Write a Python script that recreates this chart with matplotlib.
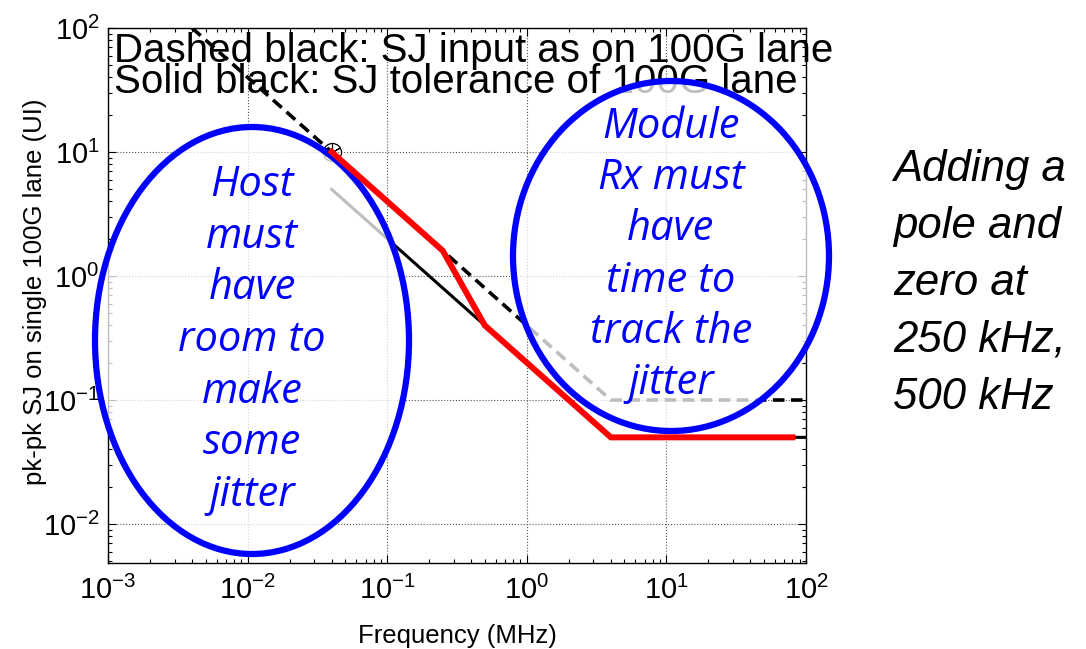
import matplotlib
matplotlib.use("Agg")
import matplotlib.pyplot as plt
from matplotlib.patches import Ellipse
from matplotlib.ticker import FixedLocator, LogLocator, NullFormatter

# data (frequency in MHz, SJ in UI)
f_input = [0.004, 4, 100]
sj_input = [100, 0.1, 0.1]
f_tol = [0.04, 4, 100]
sj_tol = [5, 0.05, 0.05]
f_new = [0.04, 0.25, 0.5, 4, 80]
sj_new = [10, 1.6, 0.4, 0.05, 0.05]
f_corner = [0.04]
sj_corner = [10]

x_ticks = [1e-3, 1e-2, 1e-1, 1e0, 1e1, 1e2]
x_labels = ["-3", "-2", "-1", "0", "1", "2"]
y_ticks = [1e-2, 1e-1, 1e0, 1e1, 1e2]
y_labels = ["-2", "-1", "0", "1", "2"]

host_lines = ["Host", "must", "have", "room to", "make", "some", "jitter"]
module_lines = ["Module", "Rx must", "have", "time to", "track the", "jitter"]
side_lines = ["Adding a", "pole and", "zero at", "250 kHz,", "500 kHz"]

narrow = ["Liberation Sans Narrow", "Liberation Sans", "DejaVu Sans"]
W, H = 1086, 649

def fx(px):
    return px / W

def fy(py):
    return 1 - py / H

fig = plt.figure(figsize=(W / 100, H / 100), dpi=100)
ax = fig.add_axes([fx(108), fy(563), fx(806) - fx(108), fy(28) - fy(563)])
ax.set_xscale("log")
ax.set_yscale("log")
ax.set_xlim(1e-3, 1e2)
ax.set_ylim(0.00485, 100)

ax.grid(True, which="major", linestyle=":", color="#555555", linewidth=0.8)
ax.xaxis.set_major_locator(FixedLocator(x_ticks))
ax.yaxis.set_major_locator(FixedLocator(y_ticks))
ax.xaxis.set_minor_locator(LogLocator(base=10, subs=range(2, 10), numticks=20))
ax.yaxis.set_minor_locator(LogLocator(base=10, subs=range(2, 10), numticks=20))
ax.xaxis.set_minor_formatter(NullFormatter())
ax.yaxis.set_minor_formatter(NullFormatter())
ax.set_xticklabels([r"$\mathregular{10^{%s}}$" % s for s in x_labels], family=narrow, fontsize=21)
ax.set_yticklabels([r"$\mathregular{10^{%s}}$" % s for s in y_labels], family=narrow, fontsize=21)
ax.tick_params(which="both", direction="in", top=True, right=True, width=0.8)
ax.tick_params(which="major", length=6)
ax.tick_params(which="minor", length=3)
ax.tick_params(axis="x", pad=9)
ax.tick_params(axis="y", pad=6)
for sp in ax.spines.values():
    sp.set_linewidth(1.0)

ax.set_xlabel("Frequency (MHz)", family=narrow, fontsize=18.5, va="center", ha="center")
ax.xaxis.set_label_coords(0.5, (563 - 636) / 535)
ax.set_ylabel("pk-pk SJ on single 100G lane (UI)", family=narrow, fontsize=18.5,
              va="center", ha="center")
ax.yaxis.set_label_coords((35 - 108) / 698, (563 - 292) / 535)

ax.plot(f_input, sj_input, color="black", linestyle=(0, (3.2, 1.8)), linewidth=2.6, zorder=3)
ax.plot(f_tol, sj_tol, color="black", linewidth=2.2, zorder=3)
ax.plot(f_corner, sj_corner, marker="o", markersize=13, markerfacecolor="none",
        markeredgecolor="black", markeredgewidth=0.9, linestyle="none", zorder=3)
ax.plot(f_corner, sj_corner, marker=(6, 2, 0), markersize=13,
        markeredgecolor="black", markeredgewidth=0.8, linestyle="none", zorder=3)

ax.text(fx(114), fy(51), "Dashed black: SJ input as on 100G lane", transform=fig.transFigure,
        family="Liberation Sans", fontsize=29, va="center", ha="left", clip_on=False, zorder=4)
ax.text(fx(114), fy(82), "Solid black: SJ tolerance of 100G lane", transform=fig.transFigure,
        family="Liberation Sans", fontsize=29, va="center", ha="left", clip_on=False, zorder=4)

for cx, cy, ew, eh in [(252, 340.5, 314, 427), (671, 256, 316, 350)]:
    ax.add_patch(Ellipse((fx(cx), fy(cy)), ew / W, eh / H, transform=fig.transFigure,
                         facecolor=(1, 1, 1, 0.75), edgecolor="#0000ff", linewidth=4.5,
                         clip_on=False, zorder=5))

ax.plot(f_new, sj_new, color="#ff0000", linewidth=4.3, solid_joinstyle="miter", zorder=6)

for i, s in enumerate(host_lines):
    ax.text(fx(252), fy(185 + 51.7 * i), s, transform=fig.transFigure, color="#0000ff",
            family="Open Sans", style="italic", fontsize=30, ha="center", va="center",
            clip_on=False, zorder=7)
for i, s in enumerate(module_lines):
    ax.text(fx(671), fy(127 + 51.2 * i), s, transform=fig.transFigure, color="#0000ff",
            family="Open Sans", style="italic", fontsize=30, ha="center", va="center",
            clip_on=False, zorder=7)
for i, s in enumerate(side_lines):
    fig.text(fx(893), fy(170 + 56.8 * i), s, color="black", family="Liberation Sans",
             style="italic", fontsize=31.5, ha="left", va="center")

fig.savefig("out.png", dpi=100)
